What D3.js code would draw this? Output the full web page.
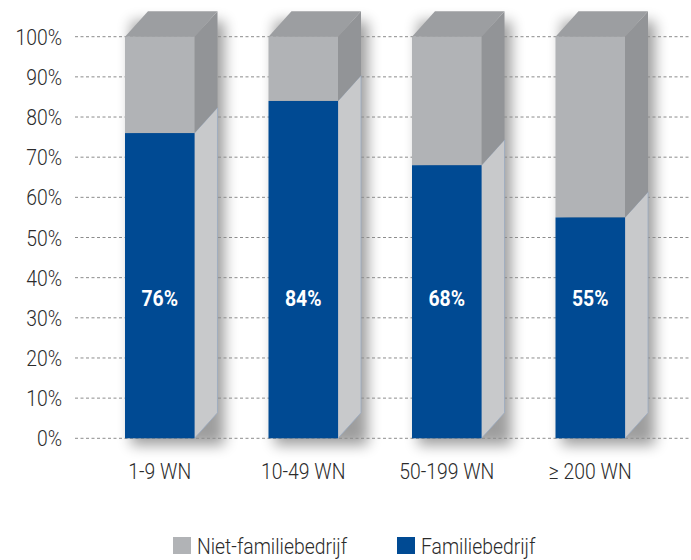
<!DOCTYPE html>
<html>
<head>
<meta charset="utf-8">
<script src="https://cdn.jsdelivr.net/npm/d3@7"></script>
<style>
  html, body { margin: 0; padding: 0; background: #fff; }
  svg { display: block; }
  text { font-family: Roboto, "Liberation Sans", sans-serif; }
</style>
</head>
<body>
<svg id="chart" width="691" height="560"></svg>
<script>
// Share of family businesses by company size (number of employees)
const categories = ["1-9 WN", "10-49 WN", "50-199 WN", "\u2265 200 WN"];
const familie = [76, 84, 68, 55];          // Familiebedrijf (%)
const nietFamilie = [24, 16, 32, 45];      // Niet-familiebedrijf (%)
const yTicks = [0, 10, 20, 30, 40, 50, 60, 70, 80, 90, 100];
const seriesNames = ["Niet-familiebedrijf", "Familiebedrijf"];

const colors = {
  blue: "#004a93",
  greyFront: "#b1b3b6",
  greyTop: "#9c9ea1",
  greySide: "#929497",
  lightSide: "#c8c9cb",
  text: "#2b2b2b",
  grid: "#8c8c8c"
};

const svg = d3.select("#chart");
const W = 691;
const SX = 0.88;   // horizontal condensing of the light typeface

const y = d3.scaleLinear().domain([0, 100]).range([438.3, 36.7]);
const x = d3.scaleBand().domain(categories).range([88, 662])
  .paddingInner(0.5157).paddingOuter(0.2578);
const bw = x.bandwidth();
const dx = 23, dy = -25.5;   // depth of the 3D extrusion

// place text at (px, py) with a condensed horizontal scale
const place = (px, py) => `translate(${px},${py}) scale(${SX},1)`;

// soft drop shadow
const defs = svg.append("defs");
defs.append("filter").attr("id", "shadow")
  .attr("x", "-50%").attr("y", "-20%").attr("width", "200%").attr("height", "140%")
  .append("feGaussianBlur").attr("stdDeviation", 7);

const data = categories.map((c, i) => ({ c, fam: familie[i], niet: nietFamilie[i] }));

// shadows
svg.append("g").selectAll("path").data(data).join("path")
  .attr("filter", "url(#shadow)")
  .attr("fill", "#000").attr("opacity", 0.38)
  .attr("d", d => {
    const x0 = x(d.c) + 6, x1 = x(d.c) + bw + dx + 7;
    const yt = y(100) + dy + 10, yb = y(0) + 7;
    return `M${x0},${yt}H${x1}V${yb}H${x0}Z`;
  });

// gridlines
svg.append("g").selectAll("line").data(yTicks).join("line")
  .attr("x1", 75).attr("x2", W)
  .attr("y1", d => y(d)).attr("y2", d => y(d))
  .attr("stroke", colors.grid).attr("stroke-width", 1)
  .attr("stroke-dasharray", "3,2.5");

// y axis labels
svg.append("g").selectAll("text").data(yTicks).join("text")
  .attr("transform", d => place(62, y(d) + 8))
  .attr("text-anchor", "end")
  .attr("font-size", 22).attr("font-weight", 300).attr("fill", colors.text)
  .text(d => d + "%");

// bars
const bars = svg.append("g").selectAll("g").data(data).join("g");

bars.each(function(d) {
  const g = d3.select(this);
  const x0 = x(d.c), x1 = x0 + bw;
  const yb = y(0), ys = y(d.fam), yt = y(d.fam + d.niet);

  // side faces
  g.append("path")
    .attr("d", `M${x1},${yb}L${x1 + dx},${yb + dy}L${x1 + dx},${ys + dy}L${x1},${ys}Z`)
    .attr("fill", colors.lightSide).attr("stroke", "#9aabc2").attr("stroke-width", 0.8);
  g.append("path")
    .attr("d", `M${x1},${ys}L${x1 + dx},${ys + dy}L${x1 + dx},${yt + dy}L${x1},${yt}Z`)
    .attr("fill", colors.greySide);
  // top face
  g.append("path")
    .attr("d", `M${x0},${yt}L${x0 + dx},${yt + dy}L${x1 + dx},${yt + dy}L${x1},${yt}Z`)
    .attr("fill", colors.greyTop);
  // front faces
  g.append("rect").attr("x", x0).attr("width", bw)
    .attr("y", yt).attr("height", ys - yt).attr("fill", colors.greyFront);
  g.append("rect").attr("x", x0).attr("width", bw)
    .attr("y", ys).attr("height", yb - ys).attr("fill", colors.blue);

  // value label
  g.append("text")
    .attr("transform", place(x0 + bw / 2, y(35) + 8.5))
    .attr("text-anchor", "middle")
    .attr("font-size", 22).attr("font-weight", "bold").attr("fill", "#fff")
    .text(d.fam + "%");
});

// category labels
svg.append("g").selectAll("text").data(categories).join("text")
  .attr("transform", d => place(x(d) + bw / 2, 478.5))
  .attr("text-anchor", "middle")
  .attr("font-size", 22).attr("font-weight", 300).attr("fill", colors.text)
  .text(d => d);

// legend
const legend = svg.append("g");
const legendItems = [
  { name: seriesNames[0], color: colors.greyFront, x: 173 },
  { name: seriesNames[1], color: colors.blue, x: 397 }
];
legendItems.forEach(it => {
  legend.append("rect").attr("x", it.x).attr("y", 537).attr("width", 18).attr("height", 17)
    .attr("fill", it.color);
  legend.append("text").attr("transform", place(it.x + 24, 554))
    .attr("font-size", 22).attr("font-weight", 300).attr("fill", colors.text).text(it.name);
});
</script>
</body>
</html>
